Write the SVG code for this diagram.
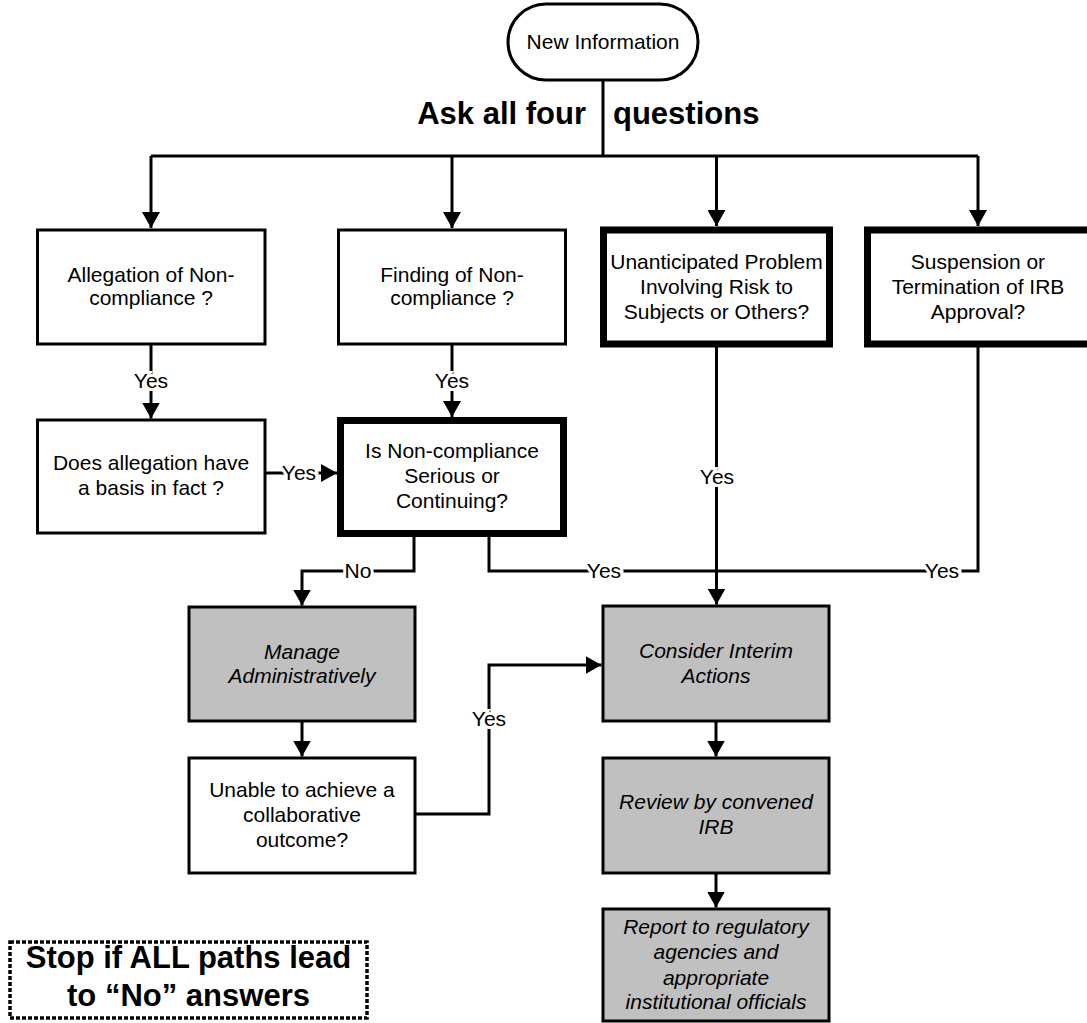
<svg xmlns="http://www.w3.org/2000/svg" width="1087" height="1023" viewBox="0 0 1087 1023">
<style>
text{font-family:"Liberation Sans",Arial,sans-serif;font-size:21px;fill:#000;text-anchor:middle}
.b{font-weight:bold;font-size:31px}
.i{font-style:italic}
.box{fill:#fff;stroke:#000;stroke-width:3}
.thick{fill:#fff;stroke:#000;stroke-width:7}
.grey{fill:#c0c0c0;stroke:#000;stroke-width:3}
.c{fill:none;stroke:#000;stroke-width:3}
.lbl{stroke:#fff;stroke-width:6;paint-order:stroke}
</style>
<defs>
<marker id="ah" markerUnits="userSpaceOnUse" markerWidth="17" markerHeight="18" refX="16" refY="9" orient="auto">
<path d="M0,0 L16,9 L0,18 z" fill="#000"/>
</marker>
</defs>
<g id="connectors">
<path class="c" d="M603,80 V156"/>
<path class="c" d="M151,156 H978"/>
<path class="c" d="M151,156 V228" marker-end="url(#ah)"/>
<path class="c" d="M452,156 V228" marker-end="url(#ah)"/>
<path class="c" d="M716.5,156 V226" marker-end="url(#ah)"/>
<path class="c" d="M978,156 V226" marker-end="url(#ah)"/>
<path class="c" d="M151,344 V418.5" marker-end="url(#ah)"/>
<path class="c" d="M452,344 V417" marker-end="url(#ah)"/>
<path class="c" d="M265,473 H337" marker-end="url(#ah)"/>
<path class="c" d="M414,537 V571 H302 V605.5" marker-end="url(#ah)"/>
<path class="c" d="M489,537 V571 H978 V347"/>
<path class="c" d="M716.5,347 V604.5" marker-end="url(#ah)"/>
<path class="c" d="M302,721 V756.5" marker-end="url(#ah)"/>
<path class="c" d="M415,814 H489 V665 H601.5" marker-end="url(#ah)"/>
<path class="c" d="M716,721 V756.5" marker-end="url(#ah)"/>
<path class="c" d="M716,873 V907.5" marker-end="url(#ah)"/>
<text class="lbl" x="151" y="388">Yes</text>
<text class="lbl" x="452" y="388">Yes</text>
<text class="lbl" x="299" y="480">Yes</text>
<text class="lbl" x="358" y="578">No</text>
<text class="lbl" x="604" y="578">Yes</text>
<text class="lbl" x="717" y="484">Yes</text>
<text class="lbl" x="942" y="578">Yes</text>
<text class="lbl" x="489" y="726">Yes</text>
</g>
<g id="start">
<rect x="508" y="4" width="190" height="76" rx="38" class="box"/>
<text x="603" y="49">New Information</text>
</g>
<g id="heading">
<text class="b" x="586" y="124" style="text-anchor:end">Ask all four</text>
<text class="b" x="613" y="124" style="text-anchor:start">questions</text>
</g>
<g id="allegation">
<rect x="37.5" y="230" width="227.5" height="114" class="box"/>
<text x="151" y="282">Allegation of Non-</text>
<text x="151" y="305">compliance ?</text>
</g>
<g id="finding">
<rect x="338.5" y="230" width="227" height="114" class="box"/>
<text x="452" y="282">Finding of Non-</text>
<text x="452" y="305">compliance ?</text>
</g>
<g id="unanticipated">
<rect x="603.5" y="230" width="226" height="114" class="thick"/>
<text x="716.5" y="269">Unanticipated Problem</text>
<text x="716.5" y="294">Involving Risk to</text>
<text x="716.5" y="319">Subjects or Others?</text>
</g>
<g id="suspension">
<rect x="867.5" y="230" width="226" height="114" class="thick"/>
<text x="978" y="269">Suspension or</text>
<text x="978" y="294">Termination of IRB</text>
<text x="978" y="319">Approval?</text>
</g>
<g id="basis">
<rect x="37.5" y="420" width="227.5" height="113" class="box"/>
<text x="151" y="470">Does allegation have</text>
<text x="151" y="495">a basis in fact ?</text>
</g>
<g id="serious">
<rect x="340.5" y="420.5" width="223" height="113" class="thick"/>
<text x="452" y="458">Is Non-compliance</text>
<text x="452" y="483">Serious or</text>
<text x="452" y="508">Continuing?</text>
</g>
<g id="manage">
<rect x="189" y="607" width="226" height="114" class="grey"/>
<text class="i" x="302" y="659">Manage</text>
<text class="i" x="302" y="683">Administratively</text>
</g>
<g id="unable">
<rect x="189" y="758" width="226" height="115" class="box"/>
<text x="302" y="797">Unable to achieve a</text>
<text x="302" y="822">collaborative</text>
<text x="302" y="847">outcome?</text>
</g>
<g id="interim">
<rect x="603" y="606" width="226" height="115" class="grey"/>
<text class="i" x="716" y="658">Consider Interim</text>
<text class="i" x="716" y="683">Actions</text>
</g>
<g id="review">
<rect x="603" y="758" width="226" height="115" class="grey"/>
<text class="i" x="716" y="809">Review by convened</text>
<text class="i" x="716" y="834">IRB</text>
</g>
<g id="report">
<rect x="603" y="909" width="226" height="112" class="grey"/>
<text class="i" x="716" y="934">Report to regulatory</text>
<text class="i" x="716" y="959">agencies and</text>
<text class="i" x="716" y="985">appropriate</text>
<text class="i" x="716" y="1009">institutional officials</text>
</g>
<g id="stop">
<rect x="10" y="942" width="357" height="76" fill="#fff" stroke="#000" stroke-width="3.5" stroke-dasharray="4 2"/>
<text class="b" x="188.5" y="968">Stop if ALL paths lead</text>
<text class="b" x="188.5" y="1006">to “No” answers</text>
</g>
</svg>
